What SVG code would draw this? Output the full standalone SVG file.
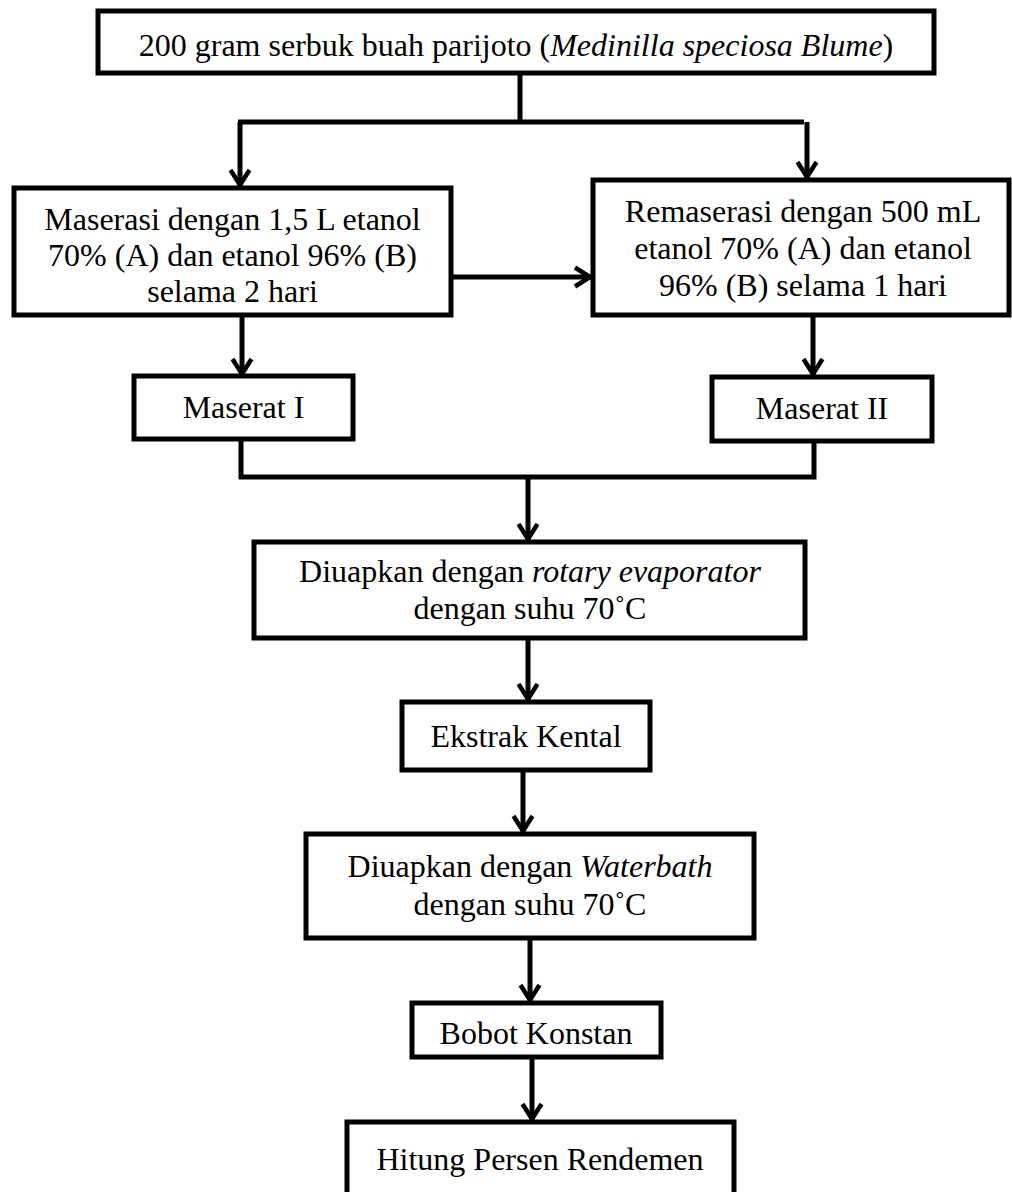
<svg xmlns="http://www.w3.org/2000/svg" width="1012" height="1192" viewBox="0 0 1012 1192">
<style>
.box{fill:#fff;stroke:#000;stroke-width:5}
.t{font-family:"Liberation Serif","Times New Roman",serif;font-size:32px;fill:#000;text-anchor:middle}
.i{font-style:italic}
.ln{fill:none;stroke:#000;stroke-width:5}
.ar{fill:none;stroke:#000;stroke-width:5;marker-end:url(#ah)}
</style>
<defs>
<marker id="ah" markerUnits="userSpaceOnUse" viewBox="0 0 24 24" markerWidth="24" markerHeight="24" refX="20" refY="12" orient="auto">
<path d="M4,2.5 L19,12 L4,21.5" fill="none" stroke="#000" stroke-width="4.5" stroke-linejoin="miter"/>
</marker>
</defs>
<rect width="1012" height="1192" fill="#fff"/>
<g id="connectors">
<path class="ln" d="M520,73 V122"/>
<path class="ln" d="M238,122 H804"/>
<path class="ar" d="M240,122 V186"/>
<path class="ar" d="M807,122 V178"/>
<path class="ar" d="M452,277 H591"/>
<path class="ar" d="M242,316 V375"/>
<path class="ar" d="M813,316 V375"/>
<path class="ln" d="M241,440 V477 H814 V443"/>
<path class="ar" d="M528,477 V540"/>
<path class="ar" d="M528,640 V700"/>
<path class="ar" d="M523,772 V832"/>
<path class="ar" d="M530,940 V1001"/>
<path class="ar" d="M532,1059 V1120"/>
</g>
<g id="n1">
<rect class="box" x="98" y="11" width="836" height="62"/>
<text class="t" x="516" y="56">200 gram serbuk buah parijoto (<tspan class="i">Medinilla speciosa Blume</tspan>)</text>
</g>
<g id="n2">
<rect class="box" x="14" y="188" width="437" height="127"/>
<text class="t" x="232.5" y="230">Maserasi dengan 1,5 L etanol</text>
<text class="t" x="232.5" y="266">70% (A) dan etanol 96% (B)</text>
<text class="t" x="232.5" y="302">selama 2 hari</text>
</g>
<g id="n3">
<rect class="box" x="593" y="180" width="416" height="135"/>
<text class="t" x="803" y="222">Remaserasi dengan 500 mL</text>
<text class="t" x="803" y="259">etanol 70% (A) dan etanol</text>
<text class="t" x="803" y="296">96% (B) selama 1 hari</text>
</g>
<g id="n4">
<rect class="box" x="134" y="376" width="219" height="63"/>
<text class="t" x="243.5" y="418">Maserat I</text>
</g>
<g id="n5">
<rect class="box" x="712" y="377" width="220" height="64"/>
<text class="t" x="822" y="419">Maserat II</text>
</g>
<g id="n6">
<rect class="box" x="254" y="542" width="551" height="96"/>
<text class="t" x="530" y="582">Diuapkan dengan <tspan class="i">rotary evaporator</tspan></text>
<text class="t" x="530" y="619">dengan suhu 70˚C</text>
</g>
<g id="n7">
<rect class="box" x="402" y="702" width="248" height="68"/>
<text class="t" x="526" y="747">Ekstrak Kental</text>
</g>
<g id="n8">
<rect class="box" x="306" y="834" width="448" height="104"/>
<text class="t" x="530" y="877">Diuapkan dengan <tspan class="i">Waterbath</tspan></text>
<text class="t" x="530" y="915">dengan suhu 70˚C</text>
</g>
<g id="n9">
<rect class="box" x="412" y="1003" width="249" height="54"/>
<text class="t" x="536" y="1044">Bobot Konstan</text>
</g>
<g id="n10">
<rect class="box" x="347" y="1122" width="387" height="76"/>
<text class="t" x="540" y="1170">Hitung Persen Rendemen</text>
</g>
</svg>
